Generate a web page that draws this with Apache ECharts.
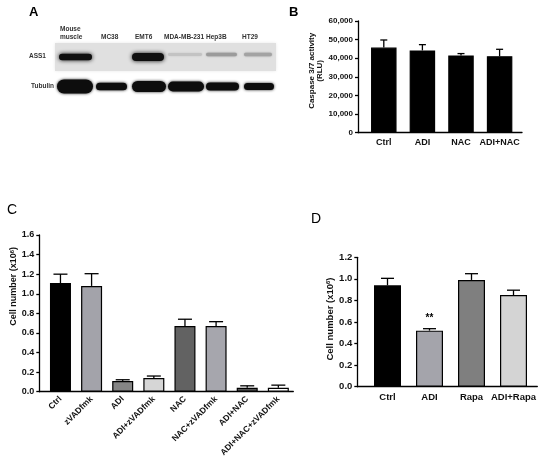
<!doctype html>
<html>
<head>
<meta charset="UTF-8">
<title>ASS1 blot, caspase 3/7 and cell number</title>
<script src="https://cdn.jsdelivr.net/npm/echarts@6/dist/echarts.min.js"></script>
<style>
  html, body { margin: 0; padding: 0; background: #fff; }
  #main { width: 550px; height: 469px; }
</style>
</head>
<body>
<div id="main"></div>
<script>
// ---- data ----
// panel A: western blot, relative band strength per lane
var laneNames = ['Mouse\nmuscle', 'MC38', 'EMT6', 'MDA-MB-231', 'Hep3B', 'HT29'];
var ass1Level = [1.0, 0.0, 1.0, 0.1, 0.3, 0.26];
var tubulinLevel = [1.0, 0.55, 0.8, 0.7, 0.58, 0.5];

// panel B: caspase 3/7 activity (RLU)
var bCats = ['Ctrl', 'ADI', 'NAC', 'ADI+NAC'];
var bMean = [45700, 44200, 41500, 41100];
var bSd = [4100, 3100, 1000, 3700];
var bColors = ['#000', '#000', '#000', '#000'];

// panel C: cell number (x10^6)
var cCats = ['Ctrl', 'zVADfmk', 'ADI', 'ADI+zVADfmk', 'NAC', 'NAC+zVADfmk', 'ADI+NAC', 'ADI+NAC+zVADfmk'];
var cMean = [1.11, 1.08, 0.11, 0.14, 0.67, 0.67, 0.04, 0.04];
var cSd = [0.09, 0.125, 0.012, 0.02, 0.07, 0.045, 0.02, 0.027];
var cColors = ['#000000', '#a3a3aa', '#858585', '#d6d6d6', '#626262', '#a6a6ad', '#555555', '#ffffff'];

// panel D: cell number (x10^6)
var dCats = ['Ctrl', 'ADI', 'Rapa', 'ADI+Rapa'];
var dMean = [0.94, 0.52, 0.99, 0.85];
var dSd = [0.065, 0.018, 0.058, 0.045];
var dColors = ['#000000', '#a4a4ab', '#7f7f7f', '#d4d4d4'];
var dMarks = ['', '**', '', ''];

var FONT = '"Liberation Sans", Arial, sans-serif';

var myChart = echarts.init(document.getElementById('main'), null, {renderer: 'canvas'});

// ---- panel A drawn as graphic elements ----
var laneX = [59, 96, 132, 168, 206, 244];
var laneW = [33, 29, 32, 34, 31, 28];
var labelX = [60, 101, 135, 164, 206, 242];
var blot = [];
blot.push({type: 'rect', shape: {x: 55, y: 43, width: 221, height: 28},
    style: {fill: '#e0e0e0', shadowBlur: 3, shadowColor: '#e8e8e8'}, z: 1});
blot.push({type: 'text', x: 29, y: 53, z: 2,
    style: {text: 'ASS1', font: 'bold 6.5px ' + FONT, fill: '#333'}});
blot.push({type: 'text', x: 31, y: 83, z: 2,
    style: {text: 'Tubulin', font: 'bold 6.5px ' + FONT, fill: '#333'}});
laneNames.forEach(function (n, i) {
    var two = n.indexOf('\n') >= 0;
    blot.push({type: 'text', x: labelX[i], y: two ? 25 : 33, z: 2,
        style: {text: n, font: 'bold 6.5px ' + FONT, fill: '#333', lineHeight: 8}});
    var a = ass1Level[i];
    if (a > 0) {
        var g = Math.round(215 - 200 * a);
        var col = 'rgb(' + g + ',' + g + ',' + g + ')';
        var h = a > 0.5 ? (i === 2 ? 8 : 6.5) : 2.5 + 3 * a;
        blot.push({type: 'rect', z: 3,
            shape: {x: laneX[i], y: (a > 0.5 ? 57 : 54.5) - h / 2, width: laneW[i], height: h, r: h / 2},
            style: {fill: col, shadowBlur: a > 0.5 ? 4 : 2, shadowColor: col}});
    }
    var th = 14 * tubulinLevel[i];
    blot.push({type: 'rect', z: 3,
        shape: {x: laneX[i] - (i === 0 ? 2 : 0), y: 86.5 - th / 2, width: laneW[i] + (i === 0 ? 3 : 2), height: th, r: th / 2},
        style: {fill: '#0d0d0d', shadowBlur: 3, shadowColor: '#222'}});
});

var letters = [
    {type: 'text', x: 29, y: 6, style: {text: 'A', font: 'bold 13px ' + FONT, fill: '#000'}},
    {type: 'text', x: 289, y: 6, style: {text: 'B', font: 'bold 13px ' + FONT, fill: '#000'}},
    {type: 'text', x: 7, y: 203, style: {text: 'C', font: '14px ' + FONT, fill: '#000'}},
    {type: 'text', x: 311, y: 212, style: {text: 'D', font: '14px ' + FONT, fill: '#000'}}
];

// ---- helpers ----
var lineBlack = {color: '#000', width: 1.3};
function outerX(gi) {
    return {gridIndex: gi, type: 'value', min: 0, max: 1,
        axisLine: {show: true, lineStyle: lineBlack}, axisTick: {show: false},
        axisLabel: {show: false}, splitLine: {show: false}};
}
function outerY(gi, max, step, name, fmt, fs, nameGap, rich, pad) {
    return {gridIndex: gi, type: 'value', min: 0, max: max, interval: step,
        axisLine: {show: true, lineStyle: lineBlack},
        axisTick: {show: true, length: 3, lineStyle: lineBlack},
        axisLabel: {margin: 5, color: '#111', fontWeight: 'bold', fontSize: fs, fontFamily: FONT, formatter: fmt},
        splitLine: {show: false},
        name: name, nameLocation: 'middle', nameGap: nameGap,
        nameTextStyle: {color: '#111', fontWeight: 'bold', fontSize: fs, fontFamily: FONT, lineHeight: fs,
            rich: rich, padding: pad || 0}};
}
function innerX(gi, cats, fs, rot, margin) {
    return {gridIndex: gi, type: 'category', data: cats,
        axisLine: {show: false}, axisTick: {show: false},
        axisLabel: {interval: 0, rotate: rot, margin: margin, color: '#111', fontWeight: 'bold', fontSize: fs, fontFamily: FONT}};
}
function innerY(gi, max) {
    return {gridIndex: gi, type: 'value', min: 0, max: max, show: false, splitLine: {show: false}};
}
function bars(ax, vals, colors, w) {
    return {type: 'bar', xAxisIndex: ax, yAxisIndex: ax, barWidth: w, z: 2,
        data: vals.map(function (v, i) {
            return {value: v, itemStyle: {color: colors[i], borderColor: '#000', borderWidth: 1.2}};
        })};
}
function errs(ax, vals, sds, capW, marks) {
    return {type: 'custom', xAxisIndex: ax, yAxisIndex: ax, z: 3,
        data: vals.map(function (v, i) { return [i, v, v + sds[i]]; }),
        renderItem: function (params, api) {
            var base = api.coord([api.value(0), api.value(1)]);
            var top = api.coord([api.value(0), api.value(2)]);
            var st = {stroke: '#000', lineWidth: 1.3};
            var kids = [
                {type: 'line', shape: {x1: base[0], y1: base[1], x2: top[0], y2: top[1]}, style: st},
                {type: 'line', shape: {x1: top[0] - capW / 2, y1: top[1], x2: top[0] + capW / 2, y2: top[1]}, style: st}
            ];
            if (marks && marks[params.dataIndex]) {
                kids.push({type: 'text', style: {text: marks[params.dataIndex], x: top[0], y: top[1] - 5,
                    align: 'center', verticalAlign: 'bottom', font: 'bold 10px ' + FONT, fill: '#000'}});
            }
            return {type: 'group', children: kids};
        }};
}
function thousands(v) { return String(v).replace(/\B(?=(\d{3})+(?!\d))/g, ','); }
function oneDec(v) { return v.toFixed(1); }

var supRich = {sup: {fontSize: 6, fontWeight: 'bold', fontFamily: FONT, verticalAlign: 'top', padding: [0, 0, 5, 0]}};

var option = {
    animation: false,
    backgroundColor: '#fff',
    graphic: blot.concat(letters),
    grid: [
        {left: 358, top: 21, width: 164, height: 111.7, outerBoundsMode: 'none'},
        {left: 364.5, top: 21, width: 154.4, height: 111.7, outerBoundsMode: 'none'},
        {left: 39.3, top: 235, width: 254, height: 156.7, outerBoundsMode: 'none'},
        {left: 44.9, top: 235, width: 249, height: 156.7, outerBoundsMode: 'none'},
        {left: 357.3, top: 257.3, width: 180, height: 129.4, outerBoundsMode: 'none'},
        {left: 366.5, top: 257.3, width: 168, height: 129.4, outerBoundsMode: 'none'}
    ],
    xAxis: [
        outerX(0), innerX(1, bCats, 9, 0, 5),
        outerX(2), innerX(3, cCats, 8.5, 45, 6),
        outerX(4), innerX(5, dCats, 9.5, 0, 6)
    ],
    yAxis: [
        outerY(0, 60000, 10000, 'Caspase 3/7 activity\n(RLU)', thousands, 8, 34, null, [0, 0, 0, 12]),
        innerY(1, 60000),
        outerY(2, 1.6, 0.2, 'Cell number (x10{sup|6})', oneDec, 9, 21, supRich, [0, 0, 0, 54]),
        innerY(3, 1.6),
        outerY(4, 1.2, 0.2, 'Cell number (x10{sup|6})', oneDec, 9.5, 22, supRich, [0, 0, 0, 6]),
        innerY(5, 1.2)
    ],
    series: [
        bars(1, bMean, bColors, 25.5), errs(1, bMean, bSd, 7),
        bars(3, cMean, cColors, 21), errs(3, cMean, cSd, 14),
        bars(5, dMean, dColors, 27), errs(5, dMean, dSd, 13, dMarks)
    ]
};
myChart.setOption(option);
</script>
</body>
</html>
